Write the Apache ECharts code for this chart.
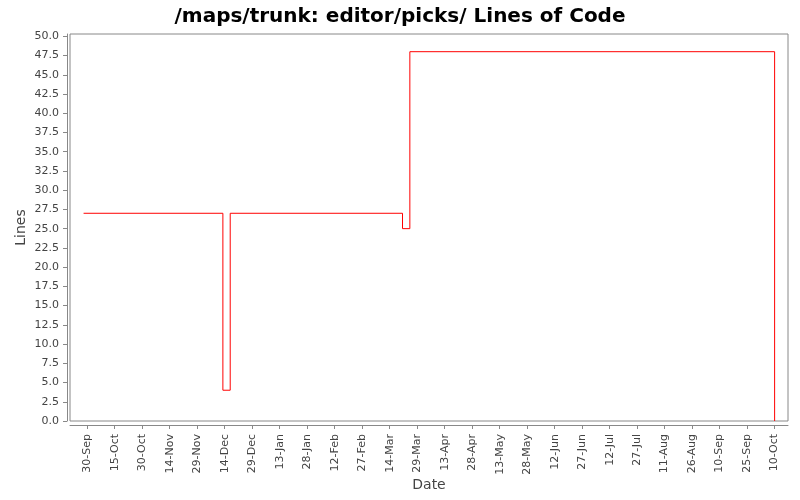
<!DOCTYPE html>
<html>
<head>
<meta charset="utf-8">
<script src="https://cdn.jsdelivr.net/npm/echarts@6/dist/echarts.min.js"></script>
<style>
  html, body { margin: 0; padding: 0; background: #fff; }
  #chart { width: 800px; height: 500px; }
</style>
</head>
<body>
<div id="chart"></div>
<script>
// step points: date where the value starts, lines of code
var dates = ["2006-09-28", "2006-12-13", "2006-12-17", "2007-03-21", "2007-03-25", "2007-10-10"];
var lines = [27, 4, 27, 25, 48, 0];

// x tick labels, every 15 days
var xTicks = ["2006-09-30", "2006-10-15", "2006-10-30", "2006-11-14", "2006-11-29", "2006-12-14",
  "2006-12-29", "2007-01-13", "2007-01-28", "2007-02-12", "2007-02-27", "2007-03-14", "2007-03-29",
  "2007-04-13", "2007-04-28", "2007-05-13", "2007-05-28", "2007-06-12", "2007-06-27", "2007-07-12",
  "2007-07-27", "2007-08-11", "2007-08-26", "2007-09-10", "2007-09-25", "2007-10-10"];
var yTicks = [0, 2.5, 5, 7.5, 10, 12.5, 15, 17.5, 20, 22.5, 25, 27.5, 30, 32.5, 35, 37.5, 40, 42.5, 45, 47.5, 50];

var months = ["Jan", "Feb", "Mar", "Apr", "May", "Jun", "Jul", "Aug", "Sep", "Oct", "Nov", "Dec"];

function toTime(s) {
  var p = s.split("-");
  return new Date(+p[0], +p[1] - 1, +p[2]).getTime();
}

var myChart = echarts.init(document.getElementById("chart"));
var axisGray = "#888888";
var day = 86400000;
var option = {
  backgroundColor: "#ffffff",
  animation: false,
  title: {
    text: "/maps/trunk: editor/picks/ Lines of Code",
    left: "center",
    top: 2,
    textStyle: { fontFamily: "DejaVu Sans", fontWeight: "bold", fontSize: 20, color: "#000" }
  },
  grid: {
    left: 70,
    right: 12,
    top: 34,
    bottom: 79,
    outerBoundsMode: "none",
    containLabel: false,
    show: true,
    borderColor: axisGray,
    borderWidth: 1,
    backgroundColor: "#fff"
  },
  xAxis: {
    type: "value",
    min: toTime("2006-09-30") - 9.4 * day,
    max: toTime("2006-09-30") + 382.3 * day,
    offset: 4,
    name: "Date",
    nameLocation: "middle",
    nameGap: 53,
    nameMoveOverlap: false,
    nameTextStyle: { fontFamily: "DejaVu Sans", fontSize: 14, color: "#444" },
    axisLine: { show: true, onZero: false, lineStyle: { color: axisGray } },
    axisTick: { show: true, length: 4, lineStyle: { color: axisGray }, customValues: xTicks.map(toTime) },
    splitLine: { show: false },
    axisLabel: {
      customValues: xTicks.map(toTime),
      rotate: 90,
      margin: 9,
      fontFamily: "DejaVu Sans",
      fontSize: 11,
      color: "#444",
      formatter: function (v) {
        var d = new Date(v);
        return d.getDate() + "-" + months[d.getMonth()];
      }
    }
  },
  yAxis: {
    type: "value",
    min: 0,
    max: 50.3,
    offset: 3,
    name: "Lines",
    nameLocation: "middle",
    nameGap: 39,
    nameMoveOverlap: false,
    nameTextStyle: { fontFamily: "DejaVu Sans", fontSize: 14, color: "#444" },
    axisLine: { show: true, lineStyle: { color: axisGray } },
    axisTick: { show: true, length: 4, lineStyle: { color: axisGray }, customValues: yTicks },
    splitLine: { show: false },
    axisLabel: {
      customValues: yTicks,
      margin: 8,
      fontFamily: "DejaVu Sans",
      fontSize: 11,
      color: "#444",
      formatter: function (v) { return v.toFixed(1); }
    }
  },
  series: [
    {
      name: "Lines",
      type: "line",
      step: "end",
      showSymbol: false,
      lineStyle: { color: "#ff0000", width: 1 },
      data: dates.map(function (d, i) { return [toTime(d), lines[i]]; })
    }
  ]
};
myChart.setOption(option);
</script>
</body>
</html>
